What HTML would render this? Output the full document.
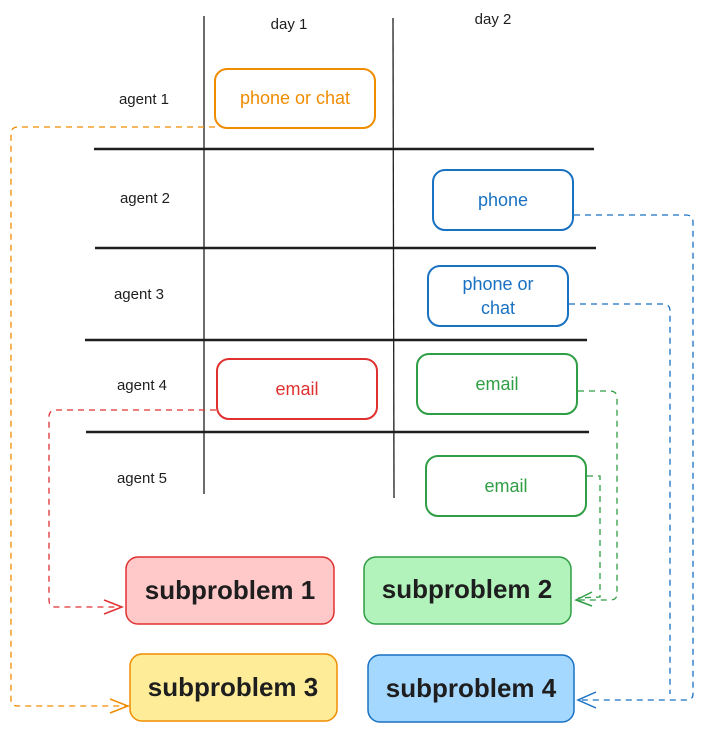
<!DOCTYPE html>
<html><head><meta charset="utf-8"><style>
html,body{margin:0;padding:0;background:#fff}
svg{display:block}
text{font-family:"Liberation Sans",sans-serif}
</style></head><body>
<svg width="703" height="732" viewBox="0 0 703 732" xmlns="http://www.w3.org/2000/svg">
<g stroke="#1e1e1e" stroke-width="1.3">
<line x1="204" y1="16" x2="204" y2="494"/>
<line x1="393" y1="18" x2="394" y2="498"/>
</g>
<g stroke="#1e1e1e" stroke-width="2.5">
<line x1="94" y1="149" x2="594" y2="149"/>
<line x1="95" y1="248" x2="596" y2="248"/>
<line x1="85" y1="340" x2="587" y2="340"/>
<line x1="86" y1="432" x2="589" y2="432"/>
</g>
<g font-size="15" fill="#1e1e1e" text-anchor="middle">
<text x="289" y="29">day 1</text>
<text x="493" y="24">day 2</text>
<text x="144" y="104">agent 1</text>
<text x="145" y="203">agent 2</text>
<text x="139" y="299">agent 3</text>
<text x="142" y="390">agent 4</text>
<text x="142" y="483">agent 5</text>
</g>
<g fill="none" stroke-width="2">
<rect x="215" y="69" width="160" height="59" rx="12" stroke="#f08c00"/>
<rect x="433" y="170" width="140" height="60" rx="12" stroke="#1971c2"/>
<rect x="428" y="266" width="140" height="60" rx="12" stroke="#1971c2"/>
<rect x="217" y="359" width="160" height="60" rx="12" stroke="#e03131"/>
<rect x="417" y="354" width="160" height="60" rx="12" stroke="#2f9e44"/>
<rect x="426" y="456" width="160" height="60" rx="12" stroke="#2f9e44"/>
</g>
<g font-size="18" text-anchor="middle">
<text x="295" y="104" fill="#f08c00">phone or chat</text>
<text x="503" y="206" fill="#1971c2">phone</text>
<text x="498" y="290" fill="#1971c2">phone or</text>
<text x="498" y="314" fill="#1971c2">chat</text>
<text x="297" y="395" fill="#e03131">email</text>
<text x="497" y="390" fill="#2f9e44">email</text>
<text x="506" y="492" fill="#2f9e44">email</text>
</g>
<g stroke-width="1.5">
<rect x="126" y="557" width="208" height="67" rx="12" fill="#ffc9c9" stroke="#e03131"/>
<rect x="364" y="557" width="207" height="67" rx="12" fill="#b2f2bb" stroke="#2f9e44"/>
<rect x="130" y="654" width="207" height="67" rx="12" fill="#ffec99" stroke="#f08c00"/>
<rect x="368" y="655" width="206" height="67" rx="12" fill="#a5d8ff" stroke="#1971c2"/>
</g>
<g font-size="26" font-weight="bold" fill="#1e1e1e" text-anchor="middle">
<text x="230" y="599">subproblem 1</text>
<text x="467" y="598">subproblem 2</text>
<text x="233" y="696">subproblem 3</text>
<text x="471" y="697">subproblem 4</text>
</g>
<g fill="none" stroke-width="1.3" stroke-dasharray="6 5">
<path d="M215 127 L18 127 Q11 127 11 134 L11 700 Q11 706 18 706 L127 706" stroke="#f08c00"/>
<path d="M216 410 L56 410 Q49 410 49 417 L49 600 Q49 607 56 607 L122 607" stroke="#e03131"/>
<path d="M578 391 L610 391 Q617 391 617 398 L617 594 Q617 600 610 600 L577 600" stroke="#2f9e44"/>
<path d="M587 476 L600 476 L600 597 L578 598" stroke="#2f9e44"/>
<path d="M574 215 L686 215 Q693 215 693 222 L693 694 Q693 700 686 700 L578 700" stroke="#1971c2"/>
<path d="M569 304 L663 304 Q670 304 670 311 L670 694" stroke="#1971c2"/>
</g>
<g fill="none" stroke-width="1.5">
<path d="M110 699 L128 706 L110 713" stroke="#f08c00"/>
<path d="M104 600 L122 607 L104 614" stroke="#e03131"/>
<path d="M592 592 L576 600 L592 606" stroke="#2f9e44"/>
<path d="M596 692 L578 700 L596 708" stroke="#1971c2"/>
</g>
</svg>
</body></html>
